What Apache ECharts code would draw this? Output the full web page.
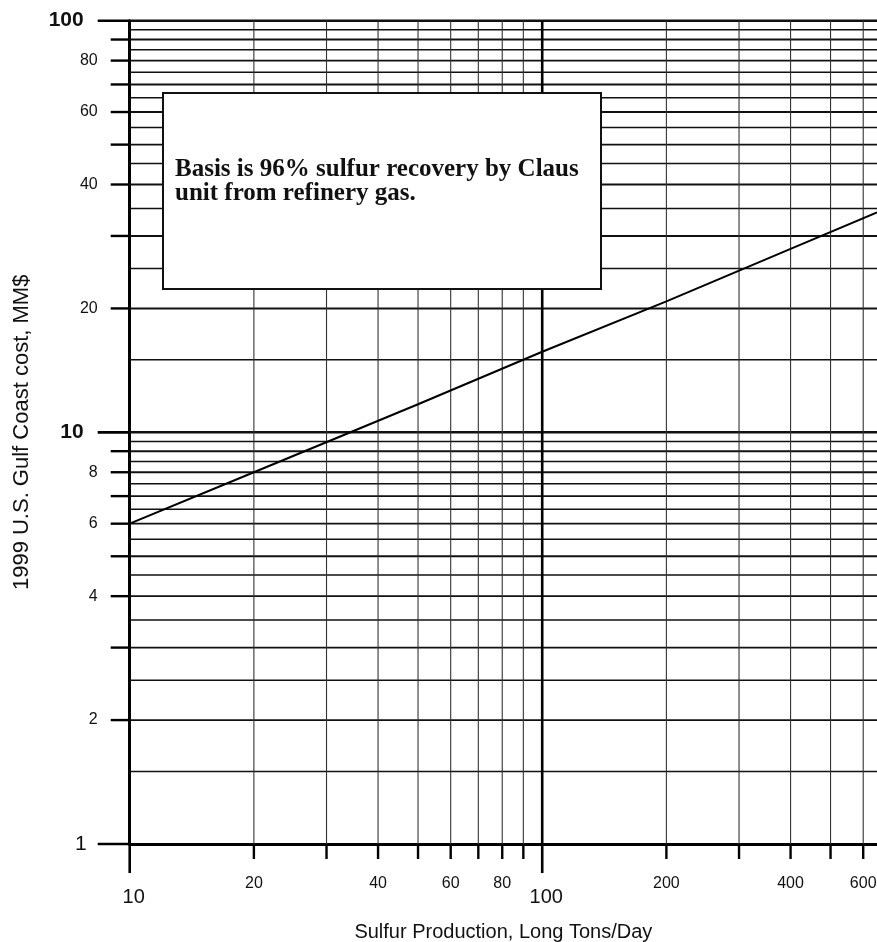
<!DOCTYPE html>
<html><head><meta charset="utf-8">
<script src="https://cdn.jsdelivr.net/npm/echarts@6/dist/echarts.min.js"></script>
<style>html,body{margin:0;padding:0;background:#fff}#c{width:877px;height:942px}</style>
</head><body><div id="c"></div>
<script>
// ---- data ----
const X_MIN = 10, X_MAX = 648, Y_MIN = 1, Y_MAX = 100;
const xGridValues = [10, 20, 30, 40, 50, 60, 70, 80, 90, 100, 200, 300, 400, 500, 600];
const xMajorValues = [10, 100];
const xTickLabels = [[10, '10'], [20, '20'], [40, '40'], [60, '60'], [80, '80'], [100, '100'], [200, '200'], [400, '400'], [600, '600']];
const yGridValues = [1, 1.5, 2, 2.5, 3, 3.5, 4, 4.5, 5, 5.5, 6, 6.5, 7, 7.5, 8, 8.5, 9, 9.5, 10,
  15, 20, 25, 30, 35, 40, 45, 50, 55, 60, 65, 70, 75, 80, 85, 90, 95, 100];
const yTickValues = [1, 2, 3, 4, 5, 6, 7, 8, 9, 10, 20, 30, 40, 50, 60, 70, 80, 90, 100];
const yMajorValues = [1, 10, 100];
const yTickLabels = [[1, '1'], [2, '2'], [4, '4'], [6, '6'], [8, '8'], [10, '10'], [20, '20'], [40, '40'], [60, '60'], [80, '80'], [100, '100']];
const production = [10, 20, 50, 100, 200, 400, 648];
const cost = [6.0, 8.0, 11.7, 15.7, 20.8, 27.9, 34.2];
const xAxisName = 'Sulfur Production, Long Tons/Day';
const yAxisName = '1999 U.S. Gulf Coast cost, MM$';
const noteLines = ['Basis is 96% sulfur recovery by Claus', 'unit from refinery gas.'];

// ---- chart ----
const chart = echarts.init(document.getElementById('c'), null, {renderer: 'canvas'});
const SANS = '"Liberation Sans", Arial, sans-serif';
const yLabelMap = new Map(yTickLabels);
const xLabelMap = new Map(xTickLabels);

function hRender(params, api) {
  const v = api.value(1);
  const p0 = api.coord([X_MIN, v]);
  const p1 = api.coord([X_MAX, v]);
  const major = yMajorValues.includes(v);
  const tick = yTickValues.includes(v);
  const children = [];
  let w = tick ? 1.9 : 1.5;
  if (major) w = 2.5;
  if (v !== Y_MIN) {
    children.push({type: 'line', shape: {x1: p0[0], y1: p0[1], x2: p1[0], y2: p1[1]},
      style: {stroke: '#111', lineWidth: w}});
  }
  if (tick) {
    const len = major ? 32 : 19;
    children.push({type: 'line', shape: {x1: p0[0] - len, y1: p0[1], x2: p0[0], y2: p0[1]},
      style: {stroke: '#000', lineWidth: major ? 2.6 : 2.4}});
  }
  if (yLabelMap.has(v)) {
    let font = '16px ' + SANS, xoff = 32;
    if (v === 10 || v === 100) { font = 'bold 21px ' + SANS; xoff = 46; }
    else if (v === 1) { font = '21px ' + SANS; xoff = 43; }
    children.push({type: 'text', style: {text: yLabelMap.get(v), x: p0[0] - xoff, y: p0[1],
      align: 'right', verticalAlign: 'middle', font: font, fill: '#111'}});
  }
  return {type: 'group', children: children};
}

function vRender(params, api) {
  const v = api.value(0);
  const p0 = api.coord([v, Y_MIN]);
  const p1 = api.coord([v, Y_MAX]);
  const major = xMajorValues.includes(v);
  const children = [];
  if (v !== X_MIN) {
    children.push({type: 'line', shape: {x1: p0[0], y1: p0[1], x2: p1[0], y2: p1[1]},
      style: {stroke: v === 100 ? '#000' : '#333', lineWidth: v === 100 ? 2.6 : 1.1}});
  }
  const len = major ? 29 : 15;
  children.push({type: 'line', shape: {x1: p0[0], y1: p0[1], x2: p0[0], y2: p0[1] + len},
    style: {stroke: '#000', lineWidth: major ? 2.6 : 2.4}});
  if (xLabelMap.has(v)) {
    const big = major;
    children.push({type: 'text', style: {text: xLabelMap.get(v), x: p0[0] + (big ? 4 : 0), y: p0[1] + (big ? 53 : 40),
      align: 'center', verticalAlign: 'middle', font: (big ? '20px ' : '16px ') + SANS, fill: '#111'}});
  }
  return {type: 'group', children: children};
}

chart.setOption({
  animation: false,
  backgroundColor: '#fff',
  grid: {left: 129.7, right: 0, top: 20.7, bottom: 98, containLabel: false, outerBoundsMode: 'none'},
  xAxis: {
    type: 'log', min: X_MIN, max: X_MAX, logBase: 10,
    name: xAxisName, nameLocation: 'middle', nameGap: 78,
    nameTextStyle: {fontFamily: SANS, fontSize: 20, color: '#111'},
    axisLine: {show: true, lineStyle: {color: '#000', width: 3}},
    axisTick: {show: false}, axisLabel: {show: false}, splitLine: {show: false}
  },
  yAxis: {
    type: 'log', min: Y_MIN, max: Y_MAX, logBase: 10,
    name: yAxisName, nameLocation: 'middle', nameGap: 97,
    nameTextStyle: {fontFamily: SANS, fontSize: 22, color: '#111'},
    axisLine: {show: true, lineStyle: {color: '#000', width: 3}},
    axisTick: {show: false}, axisLabel: {show: false}, splitLine: {show: false}
  },
  graphic: [{
    type: 'group', z: 100, children: [
      {type: 'rect', left: 162, top: 92, shape: {width: 438, height: 196},
        style: {fill: '#fff', stroke: '#111', lineWidth: 2}, z: 100},
      {type: 'text', left: 175, top: 157, z: 101,
        style: {text: noteLines.join('\n'), font: 'bold 25px "Liberation Serif", "Times New Roman", serif',
          lineHeight: 24, fill: '#111'}}
    ]
  }],
  series: [
    {type: 'custom', name: 'hgrid', coordinateSystem: 'cartesian2d', clip: false, silent: true, z: 1,
      renderItem: hRender, data: yGridValues.map(v => [X_MIN, v])},
    {type: 'custom', name: 'vgrid', coordinateSystem: 'cartesian2d', clip: false, silent: true, z: 1,
      renderItem: vRender, data: xGridValues.map(v => [v, Y_MIN])},
    {type: 'line', name: 'cost', data: production.map((x, i) => [x, cost[i]]),
      symbol: 'none', lineStyle: {color: '#000', width: 2}, z: 5, silent: true}
  ]
});
</script></body></html>
